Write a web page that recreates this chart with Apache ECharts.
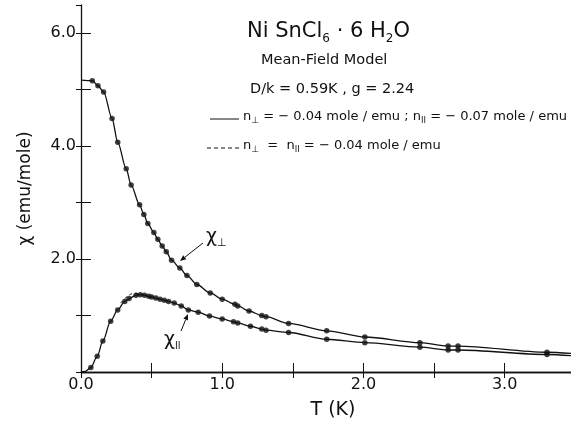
<!DOCTYPE html>
<html>
<head>
<meta charset="utf-8">
<script src="https://cdn.jsdelivr.net/npm/echarts@6.0.0/dist/echarts.min.js"></script>
<style>
html, body { margin: 0; padding: 0; background: #fff; }
#chart { width: 571px; height: 421px; }
</style>
</head>
<body>
<div id="chart"></div>
<script>
// measured points, chi perpendicular
var perpT   = [0.08, 0.12, 0.16, 0.22, 0.26, 0.32, 0.355, 0.415, 0.445, 0.473, 0.516, 0.544, 0.575, 0.604, 0.641, 0.70, 0.75, 0.82, 0.915, 1.0, 1.09, 1.11, 1.19, 1.28, 1.31, 1.47, 1.74, 2.01, 2.40, 2.60, 2.67, 3.30];
var perpChi = [5.16, 5.07, 4.96, 4.49, 4.07, 3.60, 3.31, 2.96, 2.79, 2.63, 2.47, 2.35, 2.23, 2.13, 1.98, 1.84, 1.71, 1.55, 1.40, 1.29, 1.20, 1.17, 1.08, 1.00, 0.98, 0.86, 0.73, 0.62, 0.52, 0.46, 0.46, 0.35];

// measured points, chi parallel
var parT   = [0.07, 0.115, 0.155, 0.21, 0.26, 0.31, 0.34, 0.39, 0.42, 0.45, 0.48, 0.50, 0.53, 0.56, 0.59, 0.62, 0.66, 0.71, 0.76, 0.83, 0.91, 1.0, 1.08, 1.11, 1.2, 1.28, 1.31, 1.47, 1.74, 2.01, 2.40, 2.60, 2.67, 3.30];
var parChi = [0.08, 0.28, 0.55, 0.90, 1.10, 1.25, 1.30, 1.36, 1.37, 1.36, 1.34, 1.33, 1.31, 1.29, 1.27, 1.25, 1.22, 1.17, 1.10, 1.06, 0.99, 0.94, 0.89, 0.87, 0.81, 0.76, 0.74, 0.70, 0.58, 0.52, 0.44, 0.39, 0.39, 0.31];

// curve ends
var perpStart = [0, 5.17], perpEnd = [3.47, 0.33];
var parStart = [[0, 0], [0.03, 0.01]], parEnd = [3.47, 0.29];

// dashed model curve (n_perp = n_par), where it leaves the solid one
var dashT   = [0.28, 0.31, 0.34, 0.37, 0.40, 0.44, 0.48];
var dashChi = [1.22, 1.30, 1.36, 1.39, 1.39, 1.37, 1.34];

var xTicks = [0, 1, 2, 3];
var yTicks = [2, 4, 6];

function pairs(a, b) {
	var out = [];
	for (var i = 0; i < a.length; i++) out.push([a[i], b[i]]);
	return out;
}

var perpPts = pairs(perpT, perpChi);
var parPts = pairs(parT, parChi);
var perpCurve = [perpStart].concat(perpPts, [perpEnd]);
var parCurve = parStart.concat(parPts, [parEnd]);

var ink = '#111';
var font = 'DejaVu Sans';

function arrow(x1, y1, x2, y2) {
	var dx = x2 - x1, dy = y2 - y1, len = Math.sqrt(dx * dx + dy * dy);
	var ux = dx / len, uy = dy / len, hl = 6, hw = 2.5;
	var bx = x2 - ux * hl, by = y2 - uy * hl;
	return [
		{ type: 'line', shape: { x1: x1, y1: y1, x2: bx, y2: by }, style: { stroke: ink, lineWidth: 1 } },
		{ type: 'polygon', shape: { points: [[x2, y2], [bx - uy * hw, by + ux * hw], [bx + uy * hw, by - ux * hw]] }, style: { fill: ink } }
	];
}

var subStyle = {
	a: { fontFamily: font, fontSize: 13, lineHeight: 18, verticalAlign: 'middle', fill: ink },
	s: { fontFamily: font, fontSize: 9, lineHeight: 7, verticalAlign: 'bottom', fill: ink }
};

var graphics = [
	{ type: 'text', left: 247, top: 21, style: {
		text: '{a|Ni SnCl}{s|6}{a| · 6 H}{s|2}{a|O}', fill: ink,
		rich: {
			a: { fontFamily: font, fontSize: 21, lineHeight: 27, verticalAlign: 'middle', fill: ink },
			s: { fontFamily: font, fontSize: 12, lineHeight: 10, verticalAlign: 'bottom', fill: ink }
		}
	} },
	{ type: 'text', left: 261, top: 53, style: { text: 'Mean-Field Model', fontFamily: font, fontSize: 14.5, fill: ink } },
	{ type: 'text', left: 250, top: 82, style: { text: 'D/k = 0.59K , g = 2.24', fontFamily: font, fontSize: 14.5, fill: ink } },
	{ type: 'line', shape: { x1: 210, y1: 119, x2: 239, y2: 119 }, style: { stroke: ink, lineWidth: 1 } },
	{ type: 'text', left: 243, top: 110, style: {
		text: '{a|n}{s|⊥}{a| = − 0.04 mole / emu ; n}{s|ll}{a| = − 0.07 mole / emu}', rich: subStyle
	} },
	{ type: 'line', shape: { x1: 207, y1: 148, x2: 240, y2: 148 }, style: { stroke: ink, lineWidth: 1, lineDash: [4, 3] } },
	{ type: 'text', left: 243, top: 139, style: {
		text: '{a|n}{s|⊥}{a|  =  n}{s|ll}{a| = − 0.04 mole / emu}', rich: subStyle
	} },
	{ type: 'text', left: 206, top: 228, style: {
		text: '{a|χ}{s|⊥}', rich: {
			a: { fontFamily: font, fontSize: 19, lineHeight: 22, verticalAlign: 'middle', fill: ink },
			s: { fontFamily: font, fontSize: 11, lineHeight: 10, verticalAlign: 'bottom', fill: ink }
		}
	} },
	{ type: 'text', left: 164, top: 331, style: {
		text: '{a|χ}{s|ll}', rich: {
			a: { fontFamily: font, fontSize: 19, lineHeight: 22, verticalAlign: 'middle', fill: ink },
			s: { fontFamily: font, fontSize: 10, lineHeight: 10, verticalAlign: 'bottom', fill: ink }
		}
	} }
].concat(arrow(203, 243, 180, 261), arrow(181, 331, 188, 314));

var option = {
	animation: false,
	backgroundColor: '#fff',
	grid: { left: 81, right: 0, top: 5, bottom: 49, containLabel: false, outerBoundsMode: 'none' },
	xAxis: [{
		type: 'value', min: 0, max: 3.47, interval: 0.5,
		name: 'T (K)', nameLocation: 'middle', nameGap: 29,
		nameTextStyle: { fontFamily: font, fontSize: 19, color: ink, padding: [0, 0, 0, 14] },
		axisLine: { show: true, lineStyle: { color: ink, width: 1.3 } },
		axisTick: { show: true, inside: true, length: 9, lineStyle: { color: ink } },
		axisLabel: {
			fontFamily: font, fontSize: 16, color: ink, margin: 5, hideOverlap: false, showMaxLabel: false,
			formatter: function (v) { return xTicks.indexOf(v) >= 0 ? v.toFixed(1) : ''; }
		},
		splitLine: { show: false }
	}, {
		type: 'value', position: 'top', min: 0, max: 3.47, interval: 0.5,
		axisLine: { show: true, lineStyle: { color: ink, width: 1.3 } },
		axisTick: { show: true, inside: true, length: 6, lineStyle: { color: ink } },
		axisLabel: { show: false },
		splitLine: { show: false }
	}],
	yAxis: [{
		type: 'value', min: 0, max: 6.5, interval: 1,
		name: 'χ (emu/mole)', nameLocation: 'middle', nameGap: 47, nameRotate: 90,
		nameTextStyle: { fontFamily: font, fontSize: 17, color: ink },
		axisLine: { show: true, lineStyle: { color: ink, width: 1.3 } },
		axisTick: { show: true, inside: true, length: 10, lineStyle: { color: ink } },
		axisLabel: {
			fontFamily: font, fontSize: 16, color: ink, margin: 5, hideOverlap: false, showMaxLabel: false,
			formatter: function (v) { return yTicks.indexOf(v) >= 0 ? v.toFixed(1) : ''; }
		},
		splitLine: { show: false }
	}, {
		type: 'value', position: 'right', min: 0, max: 6.5, interval: 1,
		axisLine: { show: false },
		axisTick: { show: true, inside: true, length: 5, lineStyle: { color: ink } },
		axisLabel: { show: false },
		splitLine: { show: false }
	}],
	series: [
		{ type: 'line', data: perpCurve, smooth: 0.3, smoothMonotone: 'x', showSymbol: false, lineStyle: { color: ink, width: 1.3 }, z: 2 },
		{ type: 'line', data: parCurve, smooth: 0.3, smoothMonotone: 'x', showSymbol: false, lineStyle: { color: ink, width: 1.3 }, z: 2 },
		{ type: 'line', data: pairs(dashT, dashChi), smooth: 0.4, showSymbol: false, lineStyle: { color: ink, width: 1, type: [3, 3] }, z: 2 },
		{ type: 'scatter', data: perpPts, symbol: 'circle', symbolSize: 5.5, itemStyle: { color: ink }, z: 3 },
		{ type: 'scatter', data: parPts, symbol: 'circle', symbolSize: 5.5, itemStyle: { color: ink }, z: 3 }
	],
	graphic: graphics
};

var myChart = echarts.init(document.getElementById('chart'));
myChart.setOption(option);
</script>
</body>
</html>
